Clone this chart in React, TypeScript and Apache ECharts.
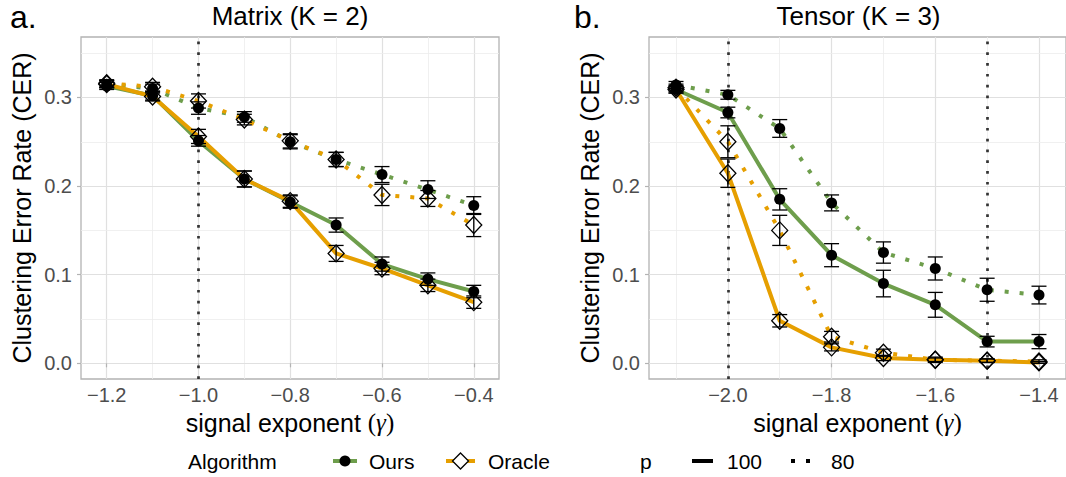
import React, { useEffect, useRef } from "react";
import * as echarts from "echarts";

// ---------- data ----------
const matrixX = [-1.2, -1.1, -1.0, -0.9, -0.8, -0.7, -0.6, -0.5, -0.4];
const matrixOurs100 = [0.313, 0.302, 0.251, 0.208, 0.182, 0.156, 0.112, 0.095, 0.081];
const matrixOurs100Err = [0.004, 0.005, 0.006, 0.009, 0.007, 0.008, 0.008, 0.007, 0.007];
const matrixOracle100 = [0.315, 0.301, 0.256, 0.208, 0.183, 0.124, 0.107, 0.088, 0.069];
const matrixOracle100Err = [0.004, 0.005, 0.008, 0.009, 0.007, 0.009, 0.007, 0.007, 0.007];
const matrixOurs80 = [0.315, 0.310, 0.288, 0.278, 0.250, 0.230, 0.213, 0.196, 0.178];
const matrixOurs80Err = [0.004, 0.005, 0.007, 0.006, 0.008, 0.008, 0.009, 0.010, 0.010];
const matrixOracle80 = [0.316, 0.312, 0.296, 0.275, 0.251, 0.230, 0.190, 0.186, 0.156];
const matrixOracle80Err = [0.004, 0.005, 0.008, 0.006, 0.008, 0.008, 0.012, 0.009, 0.013];
const matrixVLines = [-1.0];

const tensorX = [-2.1, -2.0, -1.9, -1.8, -1.7, -1.6, -1.5, -1.4];
const tensorOurs100 = [0.309, 0.283, 0.185, 0.122, 0.090, 0.066, 0.0245, 0.0245];
const tensorOurs100Err = [0.004, 0.006, 0.012, 0.013, 0.015, 0.014, 0.006, 0.008];
const tensorOracle100 = [0.309, 0.2145, 0.048, 0.018, 0.006, 0.004, 0.003, 0.001];
const tensorOracle100Err = [0.004, 0.016, 0.007, 0.004, 0.003, 0.002, 0.002, 0.001];
const tensorOurs80 = [0.314, 0.303, 0.265, 0.181, 0.125, 0.107, 0.083, 0.077];
const tensorOurs80Err = [0.004, 0.005, 0.010, 0.009, 0.012, 0.013, 0.013, 0.010];
const tensorOracle80 = [0.311, 0.250, 0.150, 0.030, 0.012, 0.004, 0.003, 0.002];
const tensorOracle80Err = [0.004, 0.018, 0.017, 0.006, 0.004, 0.003, 0.002, 0.002];
const tensorVLines = [-2.0, -1.5];

const matrixXMajor = [-1.2, -1.0, -0.8, -0.6, -0.4];
const matrixXMinor = [-1.1, -0.9, -0.7, -0.5];
const tensorXMajor = [-2.0, -1.8, -1.6, -1.4];
const tensorXMinor = [-2.1, -1.9, -1.7, -1.5];
const yMajor = [0.0, 0.1, 0.2, 0.3];
const yMinor = [0.05, 0.15, 0.25, 0.35];

const panelTitles = ["Matrix (K = 2)", "Tensor (K = 3)"];
const panelTags = ["a.", "b."];

// ---------- style ----------
const FONT = '"Liberation Sans", Arial, Helvetica, sans-serif';
const GREEN = "#6E9E4C";
const ORANGE = "#E69F00";
const DOT = [4, 11];

const fmt = (v: number) => (v < 0 ? "\u2212" : "") + Math.abs(v).toFixed(1);

function pairs(xs: number[], ys: number[]) {
  return xs.map((x, i) => [x, ys[i]]);
}
function bars(xs: number[], ys: number[], es: number[]) {
  return xs.map((x, i) => [x, ys[i] - es[i], ys[i] + es[i]]);
}

function renderErr(params: any, api: any) {
  const x = api.value(0);
  const a = api.coord([x, api.value(1)]);
  const b = api.coord([x, api.value(2)]);
  const hw = 7.5;
  const style = { stroke: "#000", lineWidth: 1.3, fill: "none" };
  return {
    type: "group",
    children: [
      { type: "line", shape: { x1: a[0], y1: a[1], x2: b[0], y2: b[1] }, style },
      { type: "line", shape: { x1: a[0] - hw, y1: a[1], x2: a[0] + hw, y2: a[1] }, style },
      { type: "line", shape: { x1: b[0] - hw, y1: b[1], x2: b[0] + hw, y2: b[1] }, style },
    ],
  };
}

function panelSeries(
  idx: number,
  xs: number[],
  ours100: number[], ours100e: number[],
  oracle100: number[], oracle100e: number[],
  ours80: number[], ours80e: number[],
  oracle80: number[], oracle80e: number[],
  xMajor: number[], xMinor: number[], vlines: number[]
) {
  const ax = { xAxisIndex: idx, yAxisIndex: idx };
  const major = { color: "#e0e0e0", width: 1.2, type: "solid" };
  const minor = { color: "#ececec", width: 0.8, type: "solid" };
  const gridData = [
    ...xMajor.map((v) => ({ xAxis: v, lineStyle: major })),
    ...xMinor.map((v) => ({ xAxis: v, lineStyle: minor })),
    ...yMajor.map((v) => ({ yAxis: v, lineStyle: major })),
    ...yMinor.map((v) => ({ yAxis: v, lineStyle: minor })),
  ];
  const line = (data: number[][], color: string, dotted: boolean) => ({
    type: "line",
    ...ax,
    data,
    showSymbol: false,
    z: 2,
    lineStyle: { color, width: 4, type: dotted ? DOT : "solid", cap: "butt", join: "round", opacity: 1 },
    silent: true,
  });
  return [
    {
      type: "line", ...ax, data: [], silent: true,
      markLine: { z: 0, silent: true, symbol: ["none", "none"], label: { show: false }, animation: false, data: gridData },
    },
    {
      type: "line", ...ax, data: [], silent: true,
      markLine: {
        z: 1, silent: true, symbol: ["none", "none"], label: { show: false }, animation: false,
        lineStyle: { color: "#333333", width: 2.7, type: [2.7, 8.1], cap: "butt" },
        data: vlines.map((v) => ({ xAxis: v })),
      },
    },
    line(pairs(xs, ours100), GREEN, false),
    line(pairs(xs, ours80), GREEN, true),
    line(pairs(xs, oracle100), ORANGE, false),
    line(pairs(xs, oracle80), ORANGE, true),
    {
      type: "custom", ...ax, z: 3, silent: true,
      renderItem: renderErr,
      encode: { x: 0, y: [1, 2] },
      data: [...bars(xs, ours100, ours100e), ...bars(xs, ours80, ours80e), ...bars(xs, oracle100, oracle100e), ...bars(xs, oracle80, oracle80e)],
    },
    {
      type: "scatter", ...ax, z: 4, silent: true,
      symbol: "circle", symbolSize: 11,
      itemStyle: { color: "#000", opacity: 1 },
      data: [...pairs(xs, ours100), ...pairs(xs, ours80)],
    },
    {
      type: "scatter", ...ax, z: 4, silent: true,
      symbol: "diamond", symbolSize: [16, 17],
      itemStyle: { color: "transparent", borderColor: "#000", borderWidth: 1.3, opacity: 1 },
      data: [...pairs(xs, oracle100), ...pairs(xs, oracle80)],
    },
  ];
}

function xAxisCfg(idx: number, min: number, max: number, major: number[]) {
  return {
    type: "value", gridIndex: idx, min, max,
    axisLine: { show: false },
    splitLine: { show: false },
    axisTick: { show: true, customValues: major, length: 4, lineStyle: { color: "#b3b3b3", width: 1.2 } },
    axisLabel: { customValues: major, formatter: fmt, color: "#4d4d4d", fontSize: 20, fontFamily: FONT, margin: 6 },
    name: "{t|signal exponent }{m|(}{g|γ}{m|)}",
    nameLocation: "middle",
    nameGap: 31,
    nameTextStyle: {
      rich: {
        t: { fontSize: 25, fontFamily: FONT, color: "#000" },
        m: { fontSize: 25, fontFamily: '"Liberation Serif", "DejaVu Serif", serif', color: "#000" },
        g: { fontSize: 25, fontFamily: '"Liberation Serif", "DejaVu Serif", serif', fontStyle: "italic", color: "#000" },
      },
    },
  };
}

function yAxisCfg(idx: number) {
  return {
    type: "value", gridIndex: idx, min: -0.0177, max: 0.3682,
    axisLine: { show: false },
    splitLine: { show: false },
    axisTick: { show: true, customValues: yMajor, length: 4, lineStyle: { color: "#b3b3b3", width: 1.2 } },
    axisLabel: { customValues: yMajor, formatter: fmt, color: "#4d4d4d", fontSize: 20, fontFamily: FONT, margin: 9 },
    name: "Clustering Error Rate (CER)",
    nameLocation: "middle",
    nameGap: 47,
    nameTextStyle: { fontSize: 25, fontFamily: FONT, color: "#000" },
  };
}

export default function App() {
  const ref = useRef<HTMLDivElement>(null);
  useEffect(() => {
    if (!ref.current) return;
    const chart = echarts.init(ref.current, null, { renderer: "svg" });
    const textStyle = (extra: any) => ({ fontFamily: FONT, fill: "#000", ...extra });
    const legendY = 461;
    chart.setOption({
      animation: false,
      backgroundColor: "#ffffff",
      grid: [
        { left: 81, right: 567, top: 37, bottom: 98, show: true, borderColor: "#b3b3b3", borderWidth: 1.3, backgroundColor: "transparent" },
        { left: 649, right: -2, top: 37, bottom: 98, show: true, borderColor: "#b3b3b3", borderWidth: 1.3, backgroundColor: "transparent" },
      ],
      xAxis: [xAxisCfg(0, -1.256, -0.345, matrixXMajor), xAxisCfg(1, -2.1521, -1.3479, tensorXMajor)],
      yAxis: [yAxisCfg(0), yAxisCfg(1)],
      series: [
        ...panelSeries(0, matrixX, matrixOurs100, matrixOurs100Err, matrixOracle100, matrixOracle100Err,
          matrixOurs80, matrixOurs80Err, matrixOracle80, matrixOracle80Err, matrixXMajor, matrixXMinor, matrixVLines),
        ...panelSeries(1, tensorX, tensorOurs100, tensorOurs100Err, tensorOracle100, tensorOracle100Err,
          tensorOurs80, tensorOurs80Err, tensorOracle80, tensorOracle80Err, tensorXMajor, tensorXMinor, tensorVLines),
      ],
      graphic: [
        { type: "text", x: 10, y: 17, style: textStyle({ text: panelTags[0], fontSize: 32, verticalAlign: "middle" }) },
        { type: "text", x: 574, y: 17, style: textStyle({ text: panelTags[1], fontSize: 32, verticalAlign: "middle" }) },
        { type: "text", x: 290, y: 16, style: textStyle({ text: panelTitles[0], fontSize: 26, align: "center", verticalAlign: "middle" }) },
        { type: "text", x: 858.5, y: 16, style: textStyle({ text: panelTitles[1], fontSize: 26, align: "center", verticalAlign: "middle" }) },
        // legend
        { type: "text", x: 188, y: legendY, style: textStyle({ text: "Algorithm", fontSize: 21, verticalAlign: "middle" }) },
        { type: "line", shape: { x1: 333, y1: legendY, x2: 357, y2: legendY }, style: { stroke: GREEN, lineWidth: 4 } },
        { type: "circle", shape: { cx: 345, cy: legendY, r: 5.5 }, style: { fill: "#000" } },
        { type: "text", x: 369, y: legendY, style: textStyle({ text: "Ours", fontSize: 21, verticalAlign: "middle" }) },
        { type: "line", shape: { x1: 446, y1: legendY, x2: 475, y2: legendY }, style: { stroke: ORANGE, lineWidth: 4 } },
        { type: "polygon", shape: { points: [[460.5, legendY - 8], [468.5, legendY], [460.5, legendY + 8], [452.5, legendY]] }, style: { fill: "#fff", stroke: "#000", lineWidth: 1.3 } },
        { type: "text", x: 488, y: legendY, style: textStyle({ text: "Oracle", fontSize: 21, verticalAlign: "middle" }) },
        { type: "text", x: 640, y: legendY, style: textStyle({ text: "p", fontSize: 21, verticalAlign: "middle" }) },
        { type: "line", shape: { x1: 692, y1: legendY, x2: 713, y2: legendY }, style: { stroke: "#000", lineWidth: 4 } },
        { type: "text", x: 727, y: legendY, style: textStyle({ text: "100", fontSize: 21, verticalAlign: "middle" }) },
        { type: "rect", shape: { x: 791, y: legendY - 2, width: 4, height: 4 }, style: { fill: "#000" } },
        { type: "rect", shape: { x: 806, y: legendY - 2, width: 4, height: 4 }, style: { fill: "#000" } },
        { type: "text", x: 831, y: legendY, style: textStyle({ text: "80", fontSize: 21, verticalAlign: "middle" }) },
      ],
    });
    return () => chart.dispose();
  }, []);
  return <div ref={ref} style={{ position: "absolute", left: 0, top: 0, width: 1066, height: 477 }} />;
}
